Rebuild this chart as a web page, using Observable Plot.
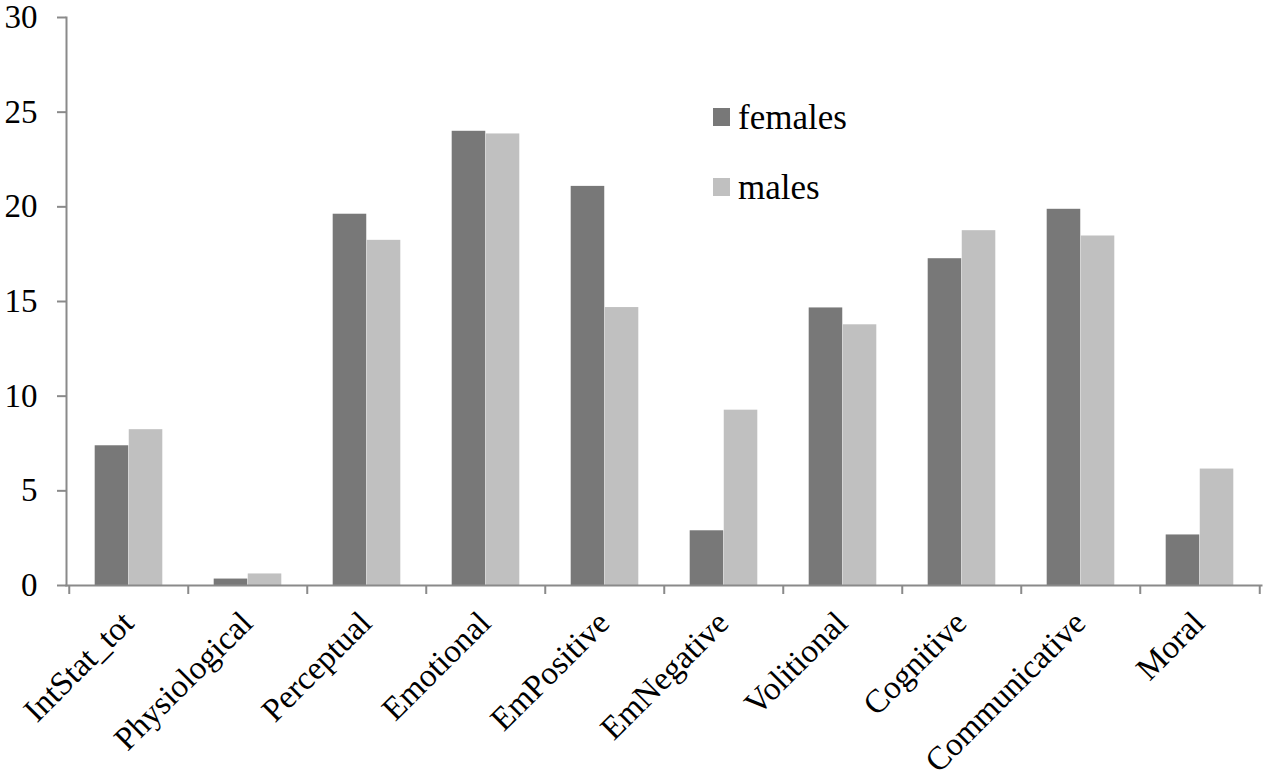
<!DOCTYPE html>
<html>
<head>
<meta charset="utf-8">
<script src="https://cdn.jsdelivr.net/npm/d3@7"></script>
<script src="https://cdn.jsdelivr.net/npm/@observablehq/plot@0.6"></script>
<style>
  body { margin: 0; background: #fff; }
  #wrap { position: relative; width: 1267px; height: 781px; overflow: hidden; }
  .leg { position: absolute; font-family: "Liberation Serif", "Times New Roman", serif; font-size: 35px; color: #000; line-height: 1; white-space: nowrap; }
  .sw { position: absolute; width: 17px; height: 18px; }
</style>
</head>
<body>
<div id="wrap"></div>
<script>
const categories = ["IntStat_tot", "Physiological", "Perceptual", "Emotional", "EmPositive", "EmNegative", "Volitional", "Cognitive", "Communicative", "Moral"];
const females = [7.38, 0.34, 19.61, 23.99, 21.08, 2.89, 14.66, 17.26, 19.87, 2.67];
const males   = [8.23, 0.61, 18.23, 23.85, 14.68, 9.26, 13.77, 18.74, 18.46, 6.15];
const seriesNames = ["females", "males"];
const seriesColors = ["#787878", "#c0c0c0"];
const yTicks = [0, 5, 10, 15, 20, 25, 30];

const W = 1267, H = 781;
const mL = 66, mR = 6, mT = 17, mB = 196;
const step = (W - mL - mR) / categories.length;
const barW = step * 0.285;
const groupLeft = (step - 2 * barW) / 2;

const rows = categories.flatMap((c, i) => [
  {category: c, series: seriesNames[0], value: females[i]},
  {category: c, series: seriesNames[1], value: males[i]}
]);

const axisColor = "#8a8a8a";
const font = '"Liberation Serif", "Times New Roman", serif';

const plot = Plot.plot({
  width: W, height: H,
  marginLeft: mL, marginRight: mR, marginTop: mT, marginBottom: mB,
  style: {fontFamily: font, fontSize: "33px", color: "#000", background: "#fff"},
  x: {type: "band", domain: categories, padding: 0, axis: null},
  y: {domain: [0, 30], axis: null},
  marks: [
    Plot.barY(rows.filter(d => d.series === seriesNames[0]), {
      x: "category", y: "value", fill: seriesColors[0],
      insetLeft: groupLeft, insetRight: step - groupLeft - barW
    }),
    Plot.barY(rows.filter(d => d.series === seriesNames[1]), {
      x: "category", y: "value", fill: seriesColors[1],
      insetLeft: groupLeft + barW, insetRight: step - groupLeft - 2 * barW
    }),
    Plot.frame({anchor: "left", stroke: axisColor, strokeWidth: 2}),
    Plot.frame({anchor: "bottom", stroke: axisColor, strokeWidth: 2}),
    Plot.axisY({ticks: yTicks, tickSize: 9, tickPadding: 20, stroke: axisColor, strokeWidth: 2,
      fontSize: 33, fontFamily: font, fill: "#000", label: null}),
    Plot.axisX({tickSize: 9, tickFormat: () => "", dx: -step / 2, stroke: axisColor, strokeWidth: 2, label: null}),
    Plot.axisX({ticks: [categories[categories.length - 1]], tickSize: 9, tickFormat: () => "", dx: step / 2,
      stroke: axisColor, strokeWidth: 2, label: null}),
    Plot.axisX({tickSize: 0, tickPadding: 32, tickRotate: -45, dx: -1, fontSize: 33, fontFamily: font,
      fill: "#000", label: null})
  ]
});

const wrap = document.getElementById("wrap");
wrap.appendChild(plot);

// legend
const legendPos = [{sx: 713, sy: 108, tx: 738, ty: 100}, {sx: 713, sy: 178, tx: 738, ty: 170}];
seriesNames.forEach((name, i) => {
  const sw = document.createElement("div");
  sw.className = "sw";
  sw.style.left = legendPos[i].sx + "px";
  sw.style.top = legendPos[i].sy + "px";
  sw.style.background = seriesColors[i];
  wrap.appendChild(sw);
  const t = document.createElement("div");
  t.className = "leg";
  t.style.left = legendPos[i].tx + "px";
  t.style.top = legendPos[i].ty + "px";
  t.textContent = name;
  wrap.appendChild(t);
});
</script>
</body>
</html>
